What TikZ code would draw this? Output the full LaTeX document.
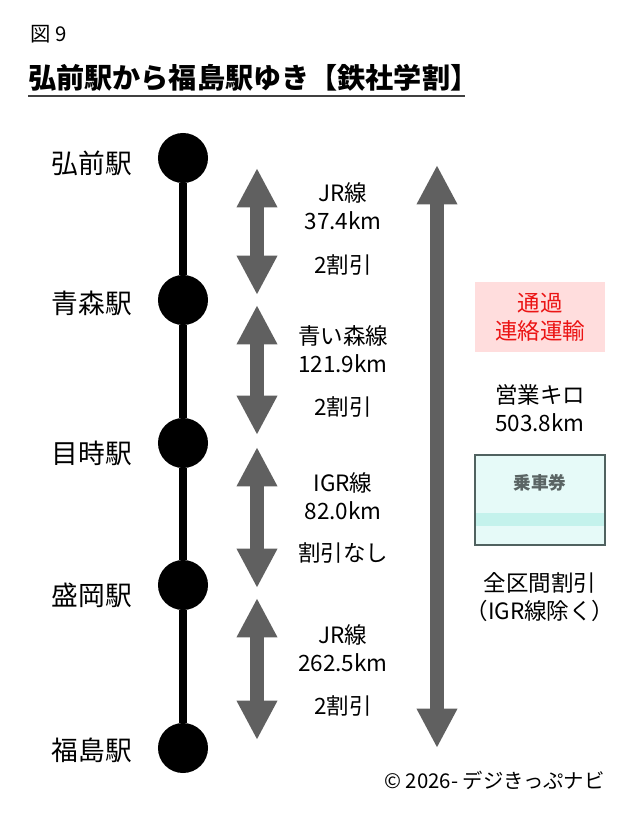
\documentclass[tikz,border=0pt]{standalone}
\usepackage{fontspec}
\setmainfont{Noto Sans CJK JP}
\usetikzlibrary{arrows.meta,positioning}
\definecolor{arrowgray}{RGB}{96,96,96}
\definecolor{passpink}{RGB}{255,221,221}
\definecolor{passred}{RGB}{235,20,20}
\definecolor{ticketfill}{RGB}{230,250,248}
\definecolor{ticketband}{RGB}{196,242,236}
\definecolor{ticketedge}{RGB}{80,98,96}
\definecolor{tickettext}{RGB}{90,100,100}
\newcommand{\fsz}[2][1.25]{\fontsize{#2}{#1\dimexpr #2pt\relax}\selectfont}
\tikzset{
  station/.style={circle,fill=black,inner sep=0pt,minimum size=1.25cm},
  stlabel/.style={font=\fsz{19}},
  seglabel/.style={font=\fsz{16},align=center},
  farearrow/.style={arrowgray,line width=10pt,{Triangle[width=27pt,length=28pt]}-{Triangle[width=27pt,length=28pt]}},
}

\begin{document}
\begin{tikzpicture}[x=0.025cm,y=-0.025cm]
	\useasboundingbox (0,0) rectangle (640,822);
	% title
	\node[anchor=base west,inner sep=0pt,font=\fsz{14.5}] (fig) at (30,41) {図 9};
	\node[anchor=base west,inner sep=0pt,font=\fsz{20}\bfseries] (title) at (28,88) {弘前駅から福島駅ゆき【鉄社学割】};
	\coordinate (ula) at (28,96); \coordinate (ulb) at (465,96);
	\draw[black!75,line width=1.5pt] (ula) -- (ulb);
	% stations
	\node[station] (hir) at (183,158) {};
	\node[station] (aom) at (183,300) {};
	\node[station] (met) at (183,443) {};
	\node[station] (mor) at (183,585) {};
	\node[station] (fuk) at (183,748) {};
	\draw[line width=6pt] (hir) -- (aom) -- (met) -- (mor) -- (fuk);
	\node[stlabel] (hirl) at (92,163) {弘前駅};
	\node[stlabel] (aoml) at (92,303) {青森駅};
	\node[stlabel] (metl) at (92,453) {目時駅};
	\node[stlabel] (morl) at (92,595) {盛岡駅};
	\node[stlabel] (fukl) at (92,750) {福島駅};
	% section arrows
	\coordinate (a1) at (257,168); \coordinate (b1) at (257,295);
	\coordinate (a2) at (257,305); \coordinate (b2) at (257,435);
	\coordinate (a3) at (257,447); \coordinate (b3) at (257,588);
	\coordinate (a4) at (257,598); \coordinate (b4) at (257,740);
	\draw[farearrow] (a1) -- (b1);
	\draw[farearrow] (a2) -- (b2);
	\draw[farearrow] (a3) -- (b3);
	\draw[farearrow] (a4) -- (b4);
	\node[seglabel] (km1) at (343,206) {JR線\\37.4km};
	\node[seglabel] (dc1) at (343,265) {2割引};
	\node[seglabel] (km2) at (343,349) {青い森線\\121.9km};
	\node[seglabel] (dc2) at (343,407) {2割引};
	\node[seglabel] (km3) at (343,496) {IGR線\\82.0km};
	\node[seglabel] (dc3) at (343,553) {割引なし};
	\node[seglabel] (km4) at (343,648) {JR線\\262.5km};
	\node[seglabel] (dc4) at (343,706) {2割引};
	% whole route
	\coordinate (wt) at (437,165); \coordinate (wb) at (437,748);
	\draw[farearrow] (wt) -- (wb);
	\node[fill=passpink,text=passred,seglabel,minimum width=3.25cm,minimum height=1.75cm] (pass) at (540,317) {通過\\連絡運輸};
	\node[seglabel] (eig) at (540,408) {営業キロ\\503.8km};
	\fill[ticketfill] (475,455) rectangle (605,545);
	\fill[ticketband] (476,513) rectangle (604,526);
	\draw[ticketedge,line width=1.5pt] (475,455) rectangle (605,545);
	\node[font=\fsz{12.5}\bfseries,text=tickettext] (tk) at (540,483) {乗車券};
	\node[seglabel] (all) at (540,597) {全区間割引\\（IGR線除く）};
	% credit
	\node[anchor=base east,font=\fsz{14.5},inner sep=0pt] (cr) at (605,788) {© 2026- デジきっぷナビ};
\end{tikzpicture}
\end{document}
